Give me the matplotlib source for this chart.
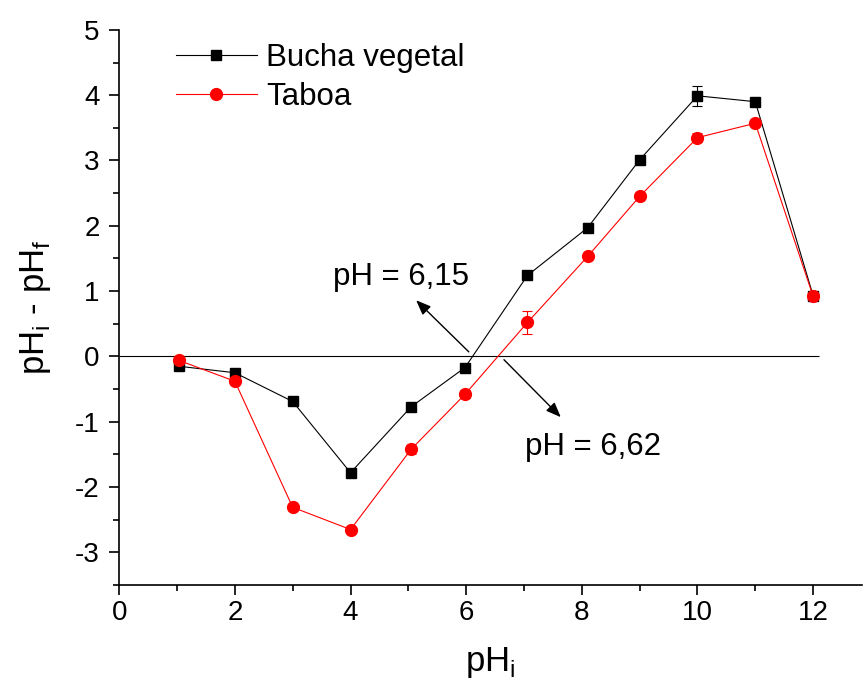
import numpy as np
import matplotlib
matplotlib.use("Agg")
import matplotlib.pyplot as plt
from matplotlib.lines import Line2D
from matplotlib.ticker import MultipleLocator

plt.rcParams["font.family"] = ["Liberation Sans", "DejaVu Sans"]
plt.rcParams["axes.unicode_minus"] = False

# initial pH vs. pH change for both biosorbents
ph_i = [1.03, 2.0, 3.0, 4.0, 5.05, 5.98, 7.06, 8.1, 9.0, 10.0, 11.0, 12.0]
bucha = [-0.15, -0.25, -0.69, -1.78, -0.77, -0.17, 1.24, 1.97, 3.01, 3.99, 3.90, 0.93]
bucha_err = [0.04, 0.03, 0.04, 0.05, 0.04, 0.03, 0.04, 0.07, 0.05, 0.15, 0.03, 0.05]
taboa = [-0.06, -0.38, -2.31, -2.65, -1.42, -0.58, 0.52, 1.53, 2.45, 3.35, 3.57, 0.92]
taboa_err = [0.03, 0.04, 0.03, 0.04, 0.07, 0.06, 0.17, 0.03, 0.03, 0.07, 0.03, 0.04]

pzc_bucha = 6.15
pzc_taboa = 6.62

fig = plt.figure(figsize=(8.64, 6.94), dpi=100)
ax = fig.add_axes([0.138, 0.157, 0.860, 0.800])

series = [
    (bucha, bucha_err, "black", "s", 7, "Bucha vegetal"),
    (taboa, taboa_err, "red", "o", 8.5, "Taboa"),
]
handles = []
for y, err, col, mk, ms, lab in series:
    ax.errorbar(ph_i, y, yerr=err, color=col, marker=mk, ms=ms, lw=0.8,
                elinewidth=0.8, capsize=3.5, capthick=0.8, zorder=3)
    handles.append(Line2D([], [], color=col, marker=mk, ms=ms, lw=0.8, label=lab))

# zero reference line
ax.hlines(0, 0, 12.1, color="black", lw=0.8, zorder=1)

arrow = dict(arrowstyle="-|>,head_length=0.5,head_width=0.2", color="black",
             lw=1.0, mutation_scale=18)
ax.annotate("", xy=(5.1, 0.89), xytext=(pzc_bucha - 0.07, 0.04), arrowprops=arrow)
ax.annotate("", xy=(7.67, -0.96), xytext=(pzc_taboa, -0.02), arrowprops=arrow)
ax.text(3.70, 1.22, f"pH = {pzc_bucha:.2f}".replace(".", ","), fontsize=22.5,
        va="center", ha="left")
ax.text(7.02, -1.38, f"pH = {pzc_taboa:.2f}".replace(".", ","), fontsize=22.5,
        va="center", ha="left")

ax.set_xlim(0, 12.85)
ax.set_ylim(-3.5, 5)
ax.xaxis.set_major_locator(MultipleLocator(2))
ax.xaxis.set_minor_locator(MultipleLocator(1))
ax.yaxis.set_major_locator(MultipleLocator(1))
ax.yaxis.set_minor_locator(MultipleLocator(0.5))
ax.spines["top"].set_visible(False)
ax.spines["right"].set_visible(False)
for s in ("left", "bottom"):
    ax.spines[s].set_linewidth(1.2)
ax.tick_params(which="major", direction="out", length=7, width=1.2, labelsize=20)
ax.tick_params(axis="y", which="major", pad=7)
ax.tick_params(which="minor", direction="out", length=4, width=1.2)

ax.set_xlabel(r"pH$_\mathregular{i}$", fontsize=25, labelpad=14)
ax.set_ylabel(r"pH$_\mathregular{i}$ - pH$_\mathregular{f}$", fontsize=25, labelpad=16)

ax.legend(handles=handles, loc="upper left", bbox_to_anchor=(0.076, 0.977),
          frameon=False, fontsize=22.5, handlelength=2.6, handletextpad=0.3,
          labelspacing=0.3, borderaxespad=0, borderpad=0)

fig.savefig("out.png", dpi=100)
